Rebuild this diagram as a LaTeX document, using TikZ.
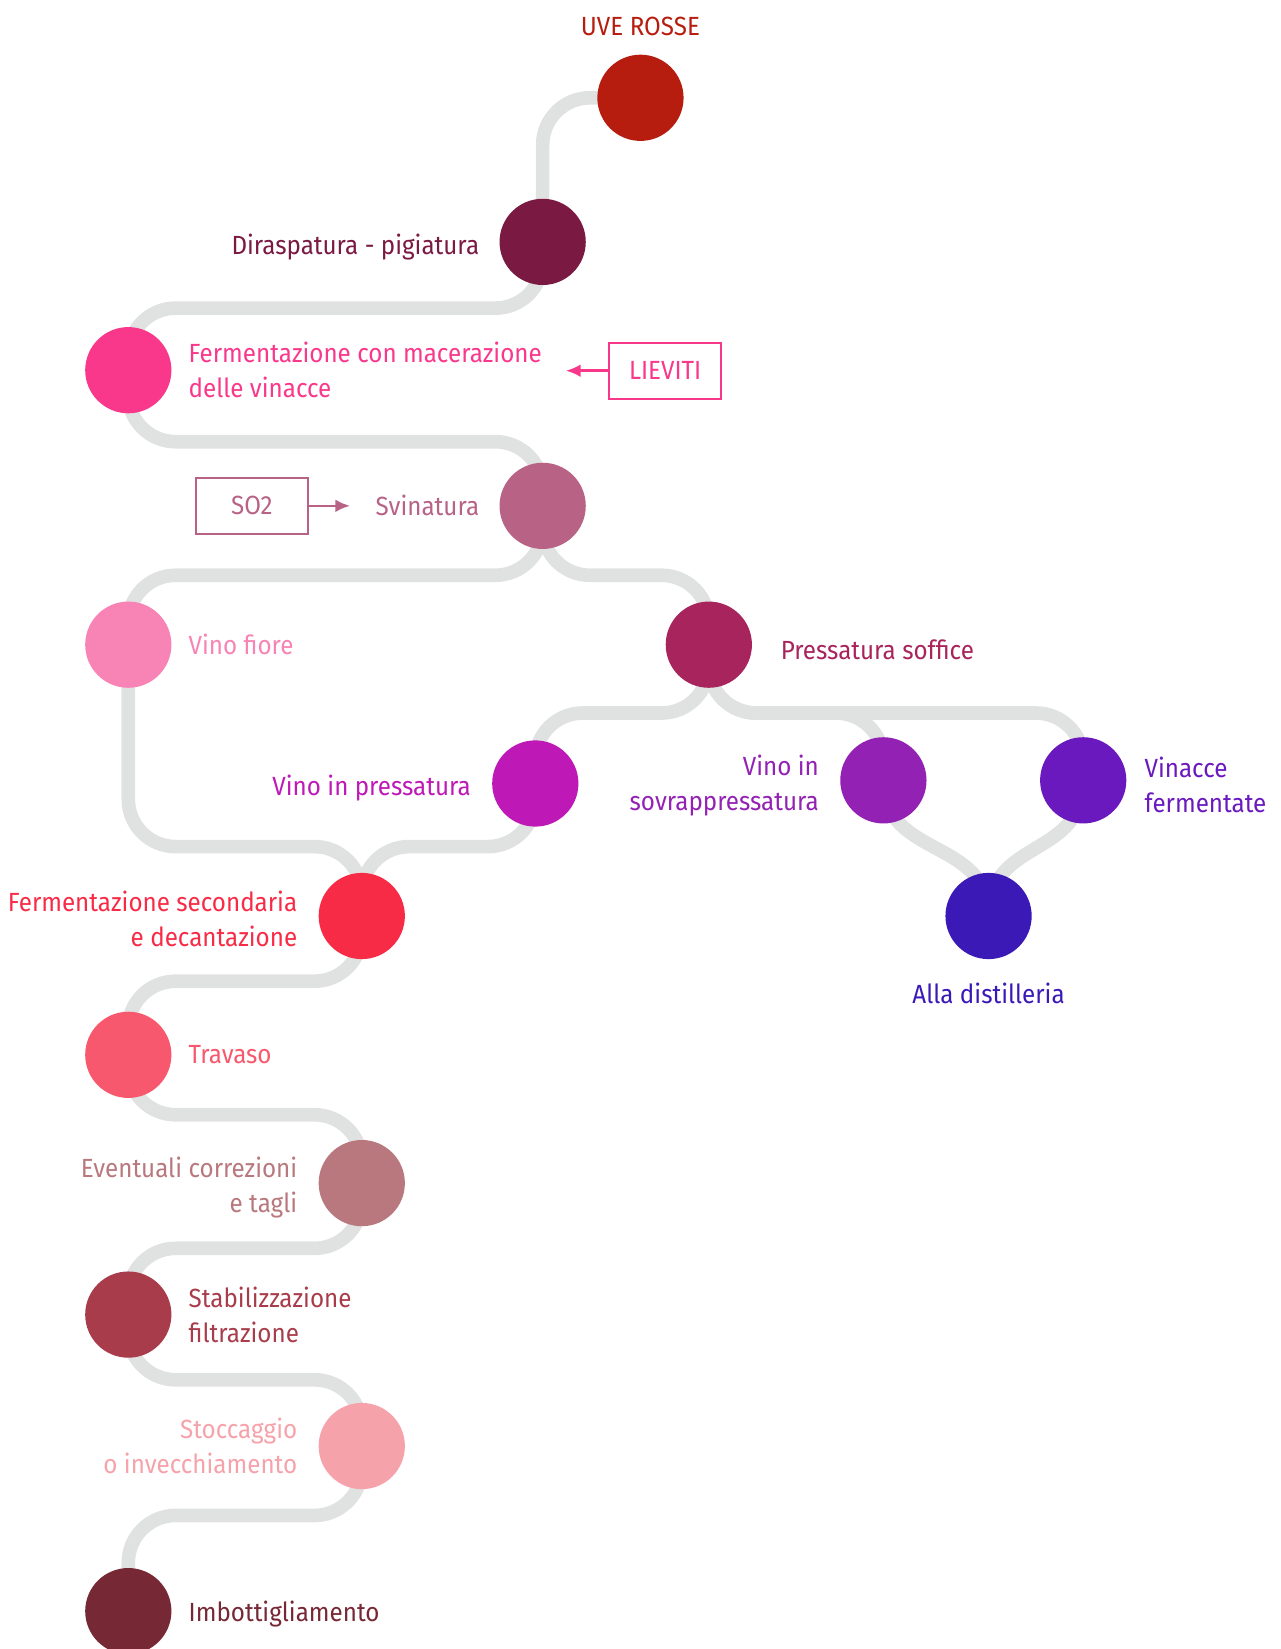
\documentclass[tikz,border=0pt]{standalone}
\usepackage{fontspec}
\setmainfont{Fira Sans}[FakeStretch=0.92]
\usetikzlibrary{positioning,arrows.meta,backgrounds}

\definecolor{cTrack}{HTML}{E0E2E1}
\definecolor{cUve}{HTML}{B71D0F}
\definecolor{cDira}{HTML}{7A1942}
\definecolor{cFerm}{HTML}{F9388B}
\definecolor{cSvin}{HTML}{B86285}
\definecolor{cFiore}{HTML}{F784B4}
\definecolor{cPress}{HTML}{A8245C}
\definecolor{cVpress}{HTML}{BE19B6}
\definecolor{cSovra}{HTML}{9321B4}
\definecolor{cVinac}{HTML}{6A19BE}
\definecolor{cDist}{HTML}{3A19B6}
\definecolor{cFsec}{HTML}{F82B47}
\definecolor{cTrav}{HTML}{F7586D}
\definecolor{cEvent}{HTML}{B8787E}
\definecolor{cStab}{HTML}{A83C4A}
\definecolor{cStocc}{HTML}{F6A2AA}
\definecolor{cImbo}{HTML}{762834}

\tikzset{
    dot/.style={circle,minimum size=82pt,inner sep=0pt},
    track/.style={draw=cTrack,line width=13pt,rounded corners=45pt},
    lbl/.style={font=\fontsize{25}{33.5}\selectfont,inner sep=0pt},
    tag/.style={draw,line width=2pt,minimum width=107pt,minimum height=53pt,
        font=\fontsize{25}{30}\selectfont},
    feed/.style={line width=2.5pt,-{Latex[length=14pt,width=12pt]}}
}

\begin{document}
\begin{tikzpicture}[x=1pt,y=-1pt]
    \useasboundingbox (0,0) rectangle (1218,1568);

    % stations
    \foreach \n/\x/\y/\c in {uve/609/93/cUve,dira/516/230/cDira,ferm/122/352/cFerm,
        svin/516/481/cSvin,fiore/122/613/cFiore,press/674/613/cPress,
        vpress/509/745/cVpress,sovra/840/742/cSovra,vinac/1030/742/cVinac,
        dist/940/871/cDist,fsec/344/871/cFsec,trav/122/1003/cTrav,
        event/344/1125/cEvent,stab/122/1250/cStab,stocc/344/1375/cStocc,
        imbo/122/1532/cImbo}
    {
        \node[dot,fill=\c] (\n) at (\x,\y) {};
    }

    % labels
    \node[lbl,text=cUve,above=18pt of uve] (uveL) {UVE ROSSE};
    \node[lbl,text=cDira,left=19pt of dira,yshift=-5pt] (diraL) {Diraspatura - pigiatura};
    \node[lbl,text=cFerm,right=16pt of ferm,align=left] (fermL)
        {Fermentazione con macerazione\\delle vinacce};
    \node[lbl,text=cSvin,left=19pt of svin] (svinL) {Svinatura};
    \node[lbl,text=cFiore,right=16pt of fiore] (fioreL) {Vino fiore};
    \node[lbl,text=cPress,right=27pt of press,yshift=-5pt] (pressL) {Pressatura soffice};
    \node[lbl,text=cVpress,left=20pt of vpress,yshift=-4pt] (vpressL) {Vino in pressatura};
    \node[lbl,text=cSovra,left=20pt of sovra,align=right,yshift=-5pt] (sovraL)
        {Vino in\\sovrappressatura};
    \node[lbl,text=cVinac,right=17pt of vinac,align=left,yshift=-4pt] (vinacL)
        {Vinacce\\fermentate};
    \node[lbl,text=cDist,below=22pt of dist] (distL) {Alla distilleria};
    \node[lbl,text=cFsec,left=20pt of fsec,align=right,yshift=-3pt] (fsecL)
        {Fermentazione secondaria\\e decantazione};
    \node[lbl,text=cTrav,right=16pt of trav] (travL) {Travaso};
    \node[lbl,text=cEvent,left=20pt of event,align=right,yshift=-4pt] (eventL)
        {Eventuali correzioni\\e tagli};
    \node[lbl,text=cStab,right=16pt of stab,align=left] (stabL)
        {Stabilizzazione\\filtrazione};
    \node[lbl,text=cStocc,left=20pt of stocc,align=right] (stoccL)
        {Stoccaggio\\o invecchiamento};
    \node[lbl,text=cImbo,right=16pt of imbo,yshift=-3pt] (imboL) {Imbottigliamento};

    % additions
    \node[tag,draw=cFerm,text=cFerm] (lieviti) at (632.5,352.5) {LIEVITI};
    \coordinate (lievitiEnd) at (538,352.5);
    \draw[feed,cFerm] (lieviti) -- (lievitiEnd);
    \node[tag,draw=cSvin,text=cSvin] (so2) at (239.5,481) {SO2};
    \coordinate (so2End) at (333,481);
    \draw[feed,cSvin] (so2) -- (so2End);

    % the track
    \begin{pgfonlayer}{background}
        \draw[track] (uve.center) -| (dira.center);
        \draw[track] (dira.center) -- ++(0,63) -| (ferm.center);
        \draw[track] (ferm.center) -- ++(0,68) -| (svin.center);
        \draw[track] (svin.center) -- ++(0,66) -| (fiore.center);
        \draw[track] (svin.center) -- ++(0,66) -| (press.center);
        \draw[track] (fiore.center) -- ++(0,192) -| (fsec.center);
        \draw[track] (press.center) -- ++(0,65) -| (vpress.center);
        \draw[track] (press.center) -- ++(0,65) -| (sovra.center);
        \draw[track] (press.center) -- ++(0,65) -| (vinac.center);
        \draw[track] (vpress.center) -- ++(0,60) -| (fsec.center);
        \draw[track] (sovra.center) .. controls +(0,75) and +(0,-75) .. (dist.center);
        \draw[track] (vinac.center) .. controls +(0,75) and +(0,-75) .. (dist.center);
        \draw[track] (fsec.center) -- ++(0,62) -| (trav.center);
        \draw[track] (trav.center) -- ++(0,57) -| (event.center);
        \draw[track] (event.center) -- ++(0,62) -| (stab.center);
        \draw[track] (stab.center) -- ++(0,62) -| (stocc.center);
        \draw[track] (stocc.center) -- ++(0,66) -| (imbo.center);
    \end{pgfonlayer}
\end{tikzpicture}
\end{document}
